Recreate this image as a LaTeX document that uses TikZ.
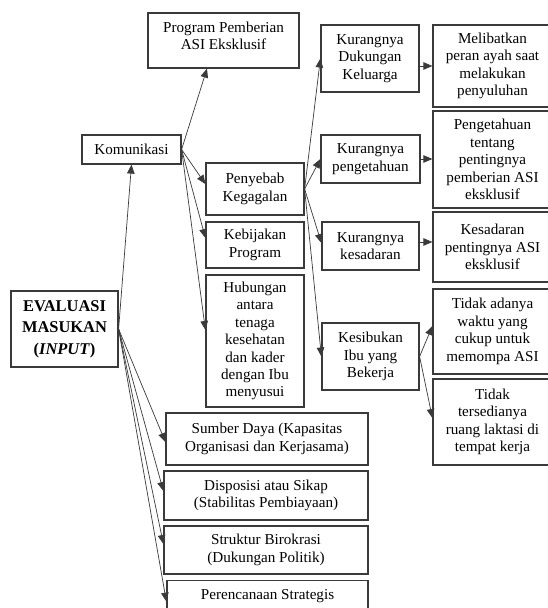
\documentclass[tikz,border=0pt]{standalone}
\usepackage{fontspec}
\setmainfont{Liberation Serif}
\usetikzlibrary{arrows.meta}
\definecolor{linec}{HTML}{3A3A3A}
\tikzset{
  box/.style={draw=linec, line width=1.2bp, inner sep=2bp, align=center,
    font=\fontsize{15.2}{17.5}\selectfont},
  arr/.style={-{Triangle[length=9bp,width=7.5bp]}, draw=linec, line width=0.7bp},
}
\begin{document}
\begin{tikzpicture}[x=1bp,y=-1bp]
\path[use as bounding box] (0,0) rectangle (548,608);
\clip (0,0) rectangle (548,608);
\fill[white] (0,0) rectangle (548,608);

% main input box
\node[box, minimum width=107bp, minimum height=76bp,
  font=\bfseries\fontsize{16.5}{21.5}\selectfont] (eval) at (64.5,329)
  {EVALUASI\\MASUKAN\\(\textit{INPUT})};

% communication branch
\node[box, minimum width=99bp, minimum height=29bp] (komu) at (131.5,149.5) {Komunikasi};
\node[box, minimum width=151bp, minimum height=55bp] (prog) at (223.5,40.5) {Program Pemberian\\ASI Eksklusif\rule[-10bp]{0pt}{10bp}};
\node[box, minimum width=98bp, minimum height=52bp] (peny) at (255,189) {Penyebab\\Kegagalan};
\node[box, minimum width=98bp, minimum height=46bp] (kebi) at (255,245) {Kebijakan\\Program};
\node[box, minimum width=98bp, minimum height=132bp] (hubu) at (255,341)
  {Hubungan\\antara\\tenaga\\kesehatan\\dan kader\\dengan Ibu\\menyusui};

% causes of failure
\node[box, minimum width=98bp, minimum height=67bp] (kdk) at (370,58.5) {Kurangnya\\Dukungan\\Keluarga};
\node[box, minimum width=99bp, minimum height=48bp] (kpe) at (370.5,159) {Kurangnya\\pengetahuan};
\node[box, minimum width=97bp, minimum height=48bp] (kks) at (370.5,246) {Kurangnya\\kesadaran};
\node[box, minimum width=97bp, minimum height=67bp] (kib) at (370.5,356.5) {Kesibukan\\Ibu yang\\Bekerja};

% solutions
\node[box, minimum width=119bp, minimum height=82bp] (mel) at (492.5,66) {Melibatkan\\peran ayah saat\\melakukan\\penyuluhan};
\node[box, minimum width=119bp, minimum height=97bp] (pen) at (492.5,159.5) {Pengetahuan\\tentang\\pentingnya\\pemberian ASI\\eksklusif};
\node[box, minimum width=119bp, minimum height=70bp] (kes) at (492.5,247) {Kesadaran\\pentingnya ASI\\eksklusif};
\node[box, minimum width=119bp, minimum height=85bp] (tad) at (492.5,331.5) {Tidak adanya\\waktu yang\\cukup untuk\\memompa ASI};
\node[box, minimum width=119bp, minimum height=86bp] (tts) at (492.5,422) {Tidak\\tersedianya\\ruang laktasi di\\tempat kerja};

% other input aspects
\node[box, minimum width=202bp, minimum height=52bp] (sum) at (267,439) {Sumber Daya (Kapasitas\\Organisasi dan Kerjasama)};
\node[box, minimum width=204bp, minimum height=49bp] (dis) at (266,495.5) {Disposisi atau Sikap\\(Stabilitas Pembiayaan)};
\node[box, minimum width=204bp, minimum height=48bp] (str) at (266,550) {Struktur Birokrasi\\(Dukungan Politik)};
\node[box, minimum width=201bp, minimum height=50bp, anchor=north] (per) at (267.5,580) {};
\node[font=\fontsize{15.2}{17.5}\selectfont, anchor=north, inner sep=0pt] (pertext) at (267.5,589) {Perencanaan Strategis};

% connectors from the input box
\draw[arr] (eval.east) -- (komu.south);
\draw[arr] (eval.east) -- ([yshift=-3bp]sum.west);
\draw[arr] (eval.east) -- ([yshift=4.5bp]dis.west);
\draw[arr] (eval.east) -- ([yshift=6bp]str.west);
\draw[arr] (eval.east) -- ([yshift=4bp]per.west);

% connectors from communication
\draw[arr] (komu.east) -- ([xshift=-16.5bp]prog.south);
\draw[arr] (komu.east) -- ([yshift=5bp]peny.west);
\draw[arr] (komu.east) -- ([yshift=7bp]kebi.west);
\draw[arr] (komu.east) -- ([yshift=11bp]hubu.west);

% connectors from causes of failure
\draw[arr] (peny.east) -- (kdk.west);
\draw[arr] (peny.east) -- (kpe.west);
\draw[arr] (peny.east) -- ([yshift=3bp]kks.west);
\draw[arr] (peny.east) -- (kib.west);

% connectors to solutions
\draw[arr] (kdk.east |- mel.west) -- (mel.west);
\draw[arr] (kpe.east) -- (kpe.east -| pen.west);
\draw[arr] ([yshift=4bp]kks.east) -- ([yshift=4bp]kks.east -| kes.west);
\draw[arr] (kib.east) -- ([yshift=5.5bp]tad.west);
\draw[arr] (kib.east) -- ([yshift=4bp]tts.west);
\end{tikzpicture}
\end{document}
